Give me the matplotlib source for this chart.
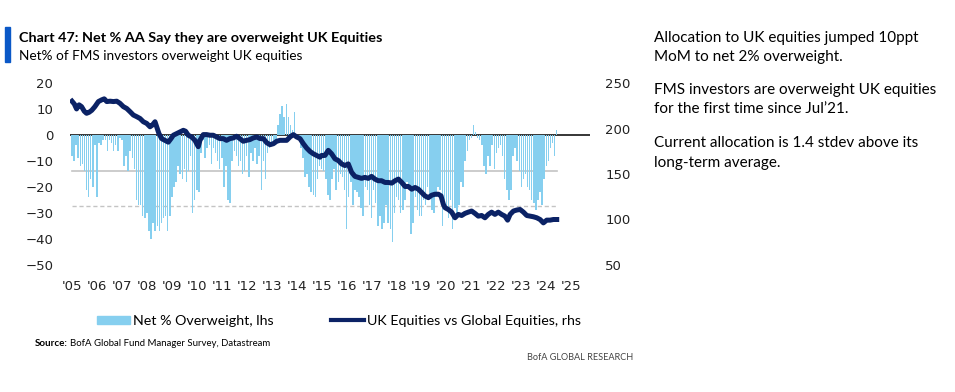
import matplotlib.pyplot as plt
import numpy as np
from matplotlib.patches import Rectangle
from matplotlib.lines import Line2D

# Net % overweight UK equities (lhs), monthly from Jan 2005
net_ow_2005 = [-8, -10, -4, -9, -12, -11, -14, -21, -24, -17, -20, -4]
net_ow_2006 = [-24, -3, -4, -2, -2, -6, -2, -3, -6, -4, -6, -1]
net_ow_2007 = [-2, -12, -8, -14, -6, -9, -13, -25, -27, -27, -31, -32]
net_ow_2008 = [-30, -37, -40, -34, -37, -35, -37, -34, -32, -31, -37, -31]
net_ow_2009 = [-24, -20, -18, -12, -15, -17, -13, -18, -14, -8, -30, -25]
net_ow_2010 = [-21, -22, -7, -2, -9, -5, -4, -11, -5, -7, -10, -13]
net_ow_2011 = [-9, -20, -12, -25, -26, -10, -6, -8, -12, -10, -15, -14]
net_ow_2012 = [-8, -16, -7, -10, -5, -11, -8, -21, -10, -17, -7, -5]
net_ow_2013 = [-4, -3, -2, 4, 8, 11, 7, 12, 7, 4, 2, 9]
net_ow_2014 = [-1, -2, -5, -9, -16, -15, -20, -22, -23, -24, -17, -12]
net_ow_2015 = [-13, -14, -17, -23, -25, -17, -13, -21, -18, -15, -16, -21]
net_ow_2016 = [-36, -24, -18, -27, -21, -22, -24, -28, -31, -20, -21, -27]
net_ow_2017 = [-32, -21, -26, -35, -31, -36, -34, -27, -34, -36, -41, -30]
net_ow_2018 = [-24, -25, -30, -29, -25, -18, -19, -38, -34, -24, -29, -31]
net_ow_2019 = [-31, -25, -27, -20, -24, -29, -30, -24, -20, -21, -35, -25]
net_ow_2020 = [-28, -32, -25, -36, -28, -31, -27, -18, -20, -10, -6, -2]
net_ow_2021 = [-1, 4, 1, -1, -2, -4, -12, -15, -8, -12, -4, -13]
net_ow_2022 = [-7, -5, -4, -8, -17, -21, -25, -21, -8, -5, -10, -14]
net_ow_2023 = [-20, -17, -15, -20, -21, -25, -26, -29, -25, -22, -27, -17]
net_ow_2024 = [-12, -10, -5, -3, -8, 2]

net_ow = (net_ow_2005 + net_ow_2006 + net_ow_2007 + net_ow_2008 + net_ow_2009
          + net_ow_2010 + net_ow_2011 + net_ow_2012 + net_ow_2013 + net_ow_2014
          + net_ow_2015 + net_ow_2016 + net_ow_2017 + net_ow_2018 + net_ow_2019
          + net_ow_2020 + net_ow_2021 + net_ow_2022 + net_ow_2023 + net_ow_2024)
months = np.arange(len(net_ow))

avg_level = -13.9
minus_1sd = -27.4

# UK vs Global equities relative (rhs), months since Jan 2005
rel_month = [0, 1.1, 2.2, 3.4, 4.6, 5.9, 7, 8.2, 9.5, 11, 12.7, 14.3, 15.5, 16.7,
             18.3, 19.9, 21.5, 23, 24.7, 26.3, 27.9, 29.5, 31.1, 32.7, 34.3, 35.9,
             37.5, 38.6, 39.9, 40.7, 41.8, 43.1, 44.7, 46.3, 47.6, 48.7, 50.3, 51.9,
             53.5, 54.6, 55.9, 57.5, 59.1, 60.7, 61.5, 63.1, 64.7, 66.3, 67.9, 69.5,
             71.1, 72.7, 74.3, 75.9, 77.5, 79.1, 80.7, 82.3, 83.9, 85.5, 87.1, 88.8,
             90.4, 92, 93.6, 95.2, 96.8, 98.4, 100, 101.6, 103.2, 104.8, 106.4, 108,
             109.6, 111.2, 112.8, 114.4, 116, 117.6, 119.2, 120, 121.6, 123.2, 124.8,
             126.4, 128, 129.6, 131.2, 132.8, 134.4, 136, 137.6, 139.2, 140.8, 142.4,
             144, 145.6, 147.2, 148.8, 150.5, 152.1, 153.7, 155.3, 156.9, 158.5, 160.1,
             161.7, 163.3, 164.9, 166.5, 168.1, 169.7, 171.3, 172.9, 174.5, 176.1,
             177.4, 178.5, 179.3, 180.9, 182.5, 184.1, 185.7, 187.3, 188.9, 190.5,
             192.1, 193.7, 195.3, 196.9, 198.5, 200.1, 201.7, 203.3, 204.9, 206.5,
             208.1, 209.4, 210.6, 212.2, 213.8, 215.4, 217, 218.6, 220.2, 221.8,
             223.4, 225, 226.6, 228.2, 229.8, 231.4, 233]
rel_value = [230, 227, 221.5, 226, 224, 219, 216.7, 217.8, 220, 224, 229.6, 231.5,
             232.6, 229.6, 230, 229.6, 230, 227.8, 224, 222, 218.5, 214.8, 213, 211,
             207.4, 205.6, 201.9, 203.7, 207.4, 202, 194.4, 188.9, 187, 185, 188.9,
             192.6, 194.4, 196.3, 198, 197, 192.6, 190.7, 187, 180, 187, 193.3, 193.3,
             192.6, 192.6, 190.7, 188.9, 188.9, 187, 188.9, 189.6, 191.5, 188.9, 186,
             187, 187.8, 189.6, 190.7, 188.9, 188.9, 184.4, 182.2, 183.3, 186, 187,
             187, 187, 190.7, 193.3, 190.7, 188.9, 183.3, 178.5, 174.8, 172.2, 170.4,
             168.5, 170.4, 170.4, 176, 172.2, 166.7, 164.8, 161.1, 159.3, 161.1, 151.9,
             147.4, 146.3, 145.2, 146.3, 145.2, 147.4, 144.4, 142.6, 142.6, 140.7,
             140.7, 140, 142.6, 144.4, 140.7, 136.3, 136.3, 133.3, 135.2, 133.3, 129.6,
             125.9, 124, 126.7, 127.8, 127.8, 125.9, 116.7, 113, 111, 108.1, 101.9,
             105.6, 104.4, 106.7, 108.1, 109.3, 106.7, 103.7, 104.4, 101.9, 105.6,
             108.1, 105.6, 108.1, 105.6, 103.7, 99.3, 105.6, 109.3, 110.4, 111, 108.1,
             104.4, 103.7, 103, 101.9, 100, 96.3, 99.3, 99.3, 100, 100]

year_labels = ["'05", "'06", "'07", "'08", "'09", "'10", "'11", "'12", "'13", "'14",
               "'15", "'16", "'17", "'18", "'19", "'20", "'21", "'22", "'23", "'24", "'25"]

bar_col = '#86cfef'
line_col = '#0b2265'
txt_font = 'Lato'

fig = plt.figure(figsize=(9.55, 3.92), dpi=100)
ax = fig.add_axes([70 / 955, 1 - 265 / 392, 520 / 955, 182 / 392])
ax2 = ax.twinx()

ax.axhline(0, color='black', lw=1.1, zorder=1)
ax.bar(months, net_ow, width=0.72, color=bar_col, linewidth=0, zorder=2)
ax.plot([0, months[-1]], [avg_level, avg_level], color='#c4c4c4', lw=1.2, zorder=1.5)
ax.plot([0, months[-1]], [minus_1sd, minus_1sd], color='#c4c4c4', lw=1.0,
        ls=(0, (3, 2)), zorder=1.5)
ax2.plot(rel_month, rel_value, color=line_col, lw=3.6, solid_joinstyle='round')

ax.set_xlim(-0.96, 249)
ax.set_ylim(-50, 20)
ax2.set_ylim(50, 250)
ax.set_yticks(np.arange(-50, 21, 10))
ax2.set_yticks(np.arange(50, 251, 50))
ax.set_xticks(np.arange(0, 241, 12))
ax.set_xticklabels(year_labels)

for a in (ax, ax2):
    for s in a.spines.values():
        s.set_visible(False)
    a.tick_params(length=0, labelsize=9.5, colors='#222222')
ax.tick_params(axis='y', pad=12)
ax2.tick_params(axis='y', pad=11)
ax.tick_params(axis='x', pad=11)
ax.set_zorder(ax2.get_zorder() - 1)
ax.patch.set_visible(False)

# title block
fig.patches.append(Rectangle((5 / 955, 1 - 62 / 392), 5 / 955, 35 / 392,
                             transform=fig.transFigure, color='#0a58c7'))
fig.text(19 / 955, 1 - 38 / 392, 'Chart 47: Net % AA Say they are overweight UK Equities',
         fontsize=10.4, fontweight='bold', family=txt_font, va='center')
fig.text(19 / 955, 1 - 56 / 392, 'Net% of FMS investors overweight UK equities',
         fontsize=9.8, family=txt_font, va='center')

# legend
handles = [Rectangle((0, 0), 1, 1, color=bar_col),
           Line2D([0], [0], color=line_col, lw=3)]
fig.legend(handles, ['Net % Overweight, lhs', 'UK Equities vs Global Equities, rhs'],
           loc='center', bbox_to_anchor=(339 / 955, 1 - 321 / 392), ncol=2,
           frameon=False, handlelength=2.3, handleheight=0.55,
           columnspacing=4.0, handletextpad=0.25,
           prop={'family': txt_font, 'size': 10.3})

fig.text(35 / 955, 1 - 343 / 392, 'Source:', fontsize=7, fontweight='bold',
         family=txt_font, va='center')
fig.text(70 / 955, 1 - 343 / 392, 'BofA Global Fund Manager Survey, Datastream',
         fontsize=6.9, family=txt_font, va='center')
fig.text(633 / 955, 1 - 357 / 392, 'BofA GLOBAL RESEARCH', fontsize=6.6,
         family=txt_font, va='center', ha='right', color='#444444')

# commentary
notes = [('Allocation to UK equities jumped 10ppt', 38),
         ('MoM to net 2% overweight.', 57),
         ('FMS investors are overweight UK equities', 90),
         ('for the first time since Jul\u201921.', 109),
         ('Current allocation is 1.4 stdev above its', 143),
         ('long-term average.', 163)]
for txt, y in notes:
    fig.text(654 / 955, 1 - y / 392, txt, fontsize=11, family=txt_font, va='center')

fig.savefig('out.png', dpi=100)
